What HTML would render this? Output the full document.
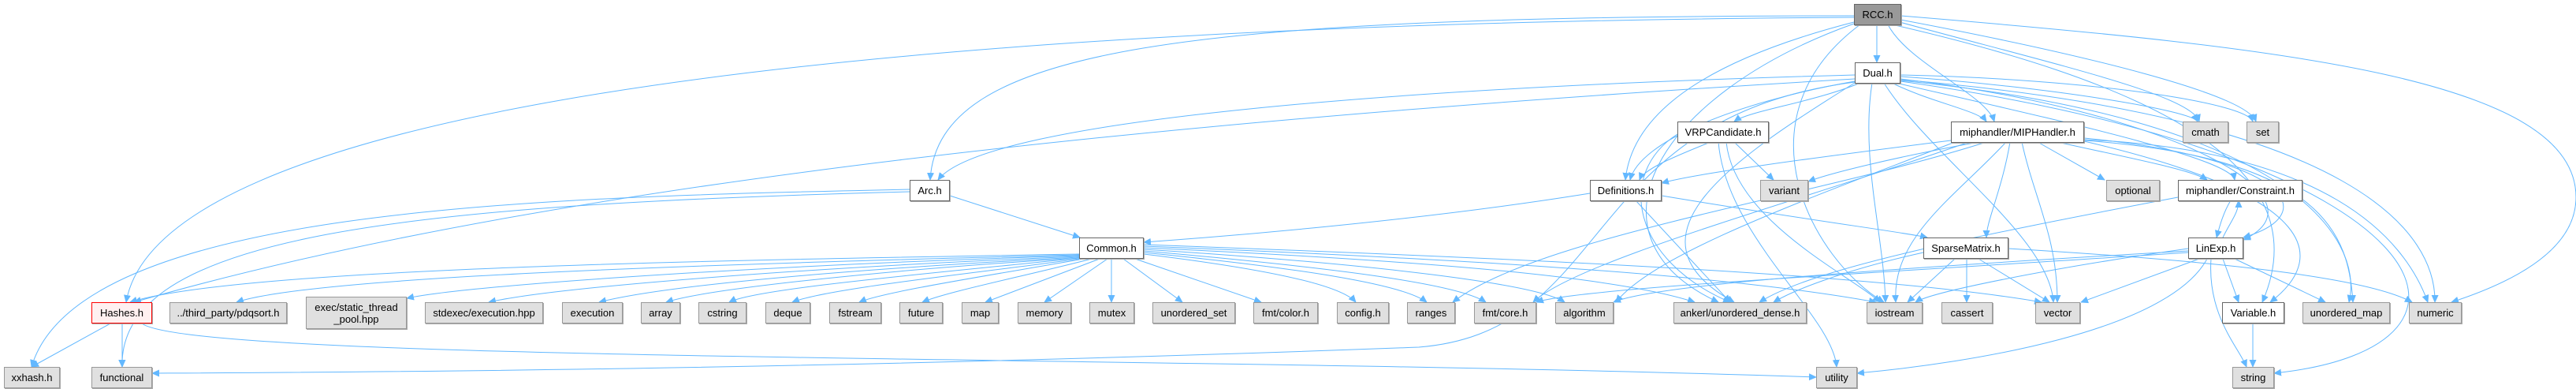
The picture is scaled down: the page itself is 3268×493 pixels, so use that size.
<!DOCTYPE html>
<html><head><meta charset="utf-8"><style>
body{margin:0;background:#fff;width:3268px;height:493px;overflow:hidden;position:relative;font-family:"Liberation Sans",sans-serif;}
.n{position:absolute;box-sizing:border-box;height:27px;display:flex;align-items:center;justify-content:center;font-size:13px;color:#000;white-space:nowrap;background:#e0e0e0;border:1px solid #999;box-shadow:1px 1px 0 #aaa;}
.w{background:#fff;border:1px solid #666;}
svg{position:absolute;left:0;top:0}
</style></head><body>
<svg width="3268" height="493" viewBox="0 0 3268 493">
<defs><marker id="a" markerWidth="10" markerHeight="10" refX="9" refY="5" orient="auto" markerUnits="userSpaceOnUse"><path d="M0,0.5 L10,5 L0,9.5z" fill="#63b8ff"/></marker></defs>
<g fill="none" stroke="#63b8ff" stroke-width="1" marker-end="url(#a)">
<path d="M2352,20 C1500,20 1190,60 1180,228"/>
<path d="M2352,22 C1000,30 200,150 160,383"/>
<path d="M2381,31 L2381,79"/>
<path d="M2395,31 C2420,80 2520,120 2530,154"/>
<path d="M2410,28 C2600,80 2780,120 2790,154"/>
<path d="M2411,25 C2650,70 2850,120 2862,154"/>
<path d="M2411,20 C2900,60 3268,100 3268,250 C3268,330 3150,370 3110,383"/>
<path d="M2352,28 C2150,80 2070,150 2062,228"/>
<path d="M2352,30 C2100,120 2000,300 2180,383"/>
<path d="M2360,31 C2200,150 2300,330 2390,383"/>
<path d="M2400,31 C2700,100 2950,200 2870,383"/>
<path d="M2353,95 C1800,110 1250,150 1190,228"/>
<path d="M2353,100 C1500,150 700,230 170,383"/>
<path d="M2360,105 C2300,130 2220,140 2200,154"/>
<path d="M2400,105 C2450,130 2510,140 2520,154"/>
<path d="M2411,97 C2600,110 2780,140 2788,154"/>
<path d="M2411,95 C2650,100 2850,130 2858,154"/>
<path d="M2405,105 C2600,150 2830,200 2835,228"/>
<path d="M2411,100 C2750,140 2960,250 2846,304"/>
<path d="M2375,105 C2360,200 2390,300 2392,383"/>
<path d="M2390,105 C2450,200 2600,300 2605,383"/>
<path d="M2353,103 C2200,130 2080,180 2068,228"/>
<path d="M2353,105 C2200,200 2050,300 2200,383"/>
<path d="M2353,104 C2000,150 2050,420 1800,440 C1000,470 400,472 193,473"/>
<path d="M2411,102 C2900,150 3000,300 2980,383"/>
<path d="M2411,101 C3000,150 3090,300 3089,383"/>
<path d="M2411,103 C3100,200 3200,440 2885,473"/>
<path d="M2170,180 C2120,200 2085,215 2080,228"/>
<path d="M2200,180 L2250,228"/>
<path d="M2190,180 C2200,280 2350,350 2385,383"/>
<path d="M2180,180 C2190,300 2325,400 2330,465"/>
<path d="M2128,170 C2050,220 2070,330 2195,383"/>
<path d="M2475,178 C2300,200 2150,220 2108,232"/>
<path d="M2510,180 C2400,200 2320,220 2294,230"/>
<path d="M2585,180 L2670,228"/>
<path d="M2610,180 C2700,200 2780,215 2800,228"/>
<path d="M2550,180 C2540,240 2520,280 2520,301"/>
<path d="M2644,175 C2900,200 2950,270 2846,301"/>
<path d="M2545,180 C2480,250 2400,300 2405,383"/>
<path d="M2565,180 C2580,250 2610,300 2610,383"/>
<path d="M2520,180 C2300,250 1950,300 1843,383"/>
<path d="M2498,180 C2300,250 2000,330 1945,383"/>
<path d="M2480,180 C2300,250 2100,320 2050,383"/>
<path d="M2644,178 C2950,200 2980,300 2985,383"/>
<path d="M2644,177 C2950,190 3050,300 3080,383"/>
<path d="M2644,179 C2950,250 2950,330 2880,383"/>
<path d="M2830,254 C2820,270 2815,290 2812,301"/>
<path d="M2820,301 C2830,280 2840,270 2840,254"/>
<path d="M2763,250 C2500,300 2300,340 2232,383"/>
<path d="M2790,328 L2640,383"/>
<path d="M2776,315 C2600,340 2450,370 2430,383"/>
<path d="M2776,318 C2400,340 2100,360 2047,383"/>
<path d="M2776,320 C2400,345 2000,365 1949,383"/>
<path d="M2800,328 C2750,420 2500,460 2356,473"/>
<path d="M2805,328 C2800,400 2840,440 2850,465"/>
<path d="M2820,328 L2840,383"/>
<path d="M2835,328 L2950,383"/>
<path d="M2548,315 C2800,330 3000,350 3060,383"/>
<path d="M2480,328 L2420,383"/>
<path d="M2495,328 L2495,383"/>
<path d="M2510,328 L2600,383"/>
<path d="M2440,320 C2350,340 2280,365 2250,383"/>
<path d="M2858,410 L2858,465"/>
<path d="M2017,245 C1800,280 1550,300 1451,307"/>
<path d="M2108,248 C2300,280 2420,295 2445,301"/>
<path d="M2075,254 L2195,383"/>
<path d="M1205,248 L1370,301"/>
<path d="M1154,240 C700,250 100,260 40,465"/>
<path d="M1154,243 C500,260 150,300 155,465"/>
<path d="M1369,322 C900,330 300,340 165,383"/>
<path d="M1369,323 C900,335 400,350 300,383"/>
<path d="M1369,324 C1000,335 600,360 516,378"/>
<path d="M1369,325 C1000,340 700,365 620,383"/>
<path d="M1369,326 C1100,340 850,360 760,383"/>
<path d="M1369,327 C1150,340 900,365 845,383"/>
<path d="M1369,327 C1200,345 960,365 925,383"/>
<path d="M1369,328 C1250,345 1050,365 1005,383"/>
<path d="M1375,328 C1250,350 1120,370 1090,383"/>
<path d="M1385,328 C1300,350 1200,370 1170,383"/>
<path d="M1395,328 L1250,383"/>
<path d="M1405,328 L1325,383"/>
<path d="M1410,328 L1410,383"/>
<path d="M1425,328 L1500,383"/>
<path d="M1440,328 L1600,383"/>
<path d="M1451,322 C1600,340 1700,360 1720,383"/>
<path d="M1451,320 C1650,340 1780,360 1810,383"/>
<path d="M1451,318 C1700,340 1850,360 1885,383"/>
<path d="M1451,316 C1750,335 1950,360 1985,383"/>
<path d="M1451,314 C1800,330 2050,350 2150,383"/>
<path d="M1451,312 C1900,330 2200,350 2380,383"/>
<path d="M1451,310 C2000,330 2400,350 2590,383"/>
<path d="M140,410 L40,465"/>
<path d="M155,410 L155,465"/>
<path d="M180,410 C250,460 1500,450 2304,478"/>
</g>
</svg>
<div class="n" style="left:2352px;top:5px;width:60px;background:#999;border-color:#666">RCC.h</div>
<div class="n w" style="left:2353px;top:79px;width:58px">Dual.h</div>
<div class="n w" style="left:2128px;top:154px;width:116px">VRPCandidate.h</div>
<div class="n w" style="left:2475px;top:154px;width:169px">miphandler/MIPHandler.h</div>
<div class="n" style="left:2769px;top:154px;width:58px">cmath</div>
<div class="n" style="left:2850px;top:154px;width:41px">set</div>
<div class="n w" style="left:1154px;top:228px;width:51px">Arc.h</div>
<div class="n w" style="left:2017px;top:228px;width:91px">Definitions.h</div>
<div class="n" style="left:2233px;top:228px;width:61px">variant</div>
<div class="n" style="left:2672px;top:228px;width:68px">optional</div>
<div class="n w" style="left:2763px;top:228px;width:158px">miphandler/Constraint.h</div>
<div class="n w" style="left:1369px;top:301px;width:82px">Common.h</div>
<div class="n w" style="left:2440px;top:301px;width:108px">SparseMatrix.h</div>
<div class="n w" style="left:2776px;top:301px;width:70px">LinExp.h</div>
<div class="n" style="left:116px;top:383px;width:77px;background:#fff0f0;border-color:#f00">Hashes.h</div>
<div class="n" style="left:215px;top:383px;width:149px">../third_party/pdqsort.h</div>
<div class="n" style="left:388px;top:376px;width:128px;height:41px;line-height:15px;text-align:center">exec/static_thread<br>_pool.hpp</div>
<div class="n" style="left:539px;top:383px;width:150px">stdexec/execution.hpp</div>
<div class="n" style="left:713px;top:383px;width:77px">execution</div>
<div class="n" style="left:813px;top:383px;width:50px">array</div>
<div class="n" style="left:886px;top:383px;width:61px">cstring</div>
<div class="n" style="left:971px;top:383px;width:57px">deque</div>
<div class="n" style="left:1052px;top:383px;width:66px">fstream</div>
<div class="n" style="left:1141px;top:383px;width:55px">future</div>
<div class="n" style="left:1220px;top:383px;width:47px">map</div>
<div class="n" style="left:1291px;top:383px;width:68px">memory</div>
<div class="n" style="left:1382px;top:383px;width:57px">mutex</div>
<div class="n" style="left:1462px;top:383px;width:105px">unordered_set</div>
<div class="n" style="left:1590px;top:383px;width:82px">fmt/color.h</div>
<div class="n" style="left:1696px;top:383px;width:66px">config.h</div>
<div class="n" style="left:1785px;top:383px;width:61px">ranges</div>
<div class="n" style="left:1870px;top:383px;width:79px">fmt/core.h</div>
<div class="n" style="left:1973px;top:383px;width:74px">algorithm</div>
<div class="n" style="left:2123px;top:383px;width:169px">ankerl/unordered_dense.h</div>
<div class="n" style="left:2368px;top:383px;width:71px">iostream</div>
<div class="n" style="left:2463px;top:383px;width:65px">cassert</div>
<div class="n" style="left:2582px;top:383px;width:57px">vector</div>
<div class="n w" style="left:2819px;top:383px;width:79px">Variable.h</div>
<div class="n" style="left:2921px;top:383px;width:111px">unordered_map</div>
<div class="n" style="left:3056px;top:383px;width:67px">numeric</div>
<div class="n" style="left:5px;top:465px;width:71px">xxhash.h</div>
<div class="n" style="left:116px;top:465px;width:77px">functional</div>
<div class="n" style="left:2304px;top:465px;width:52px">utility</div>
<div class="n" style="left:2832px;top:465px;width:53px">string</div>
</body></html>
